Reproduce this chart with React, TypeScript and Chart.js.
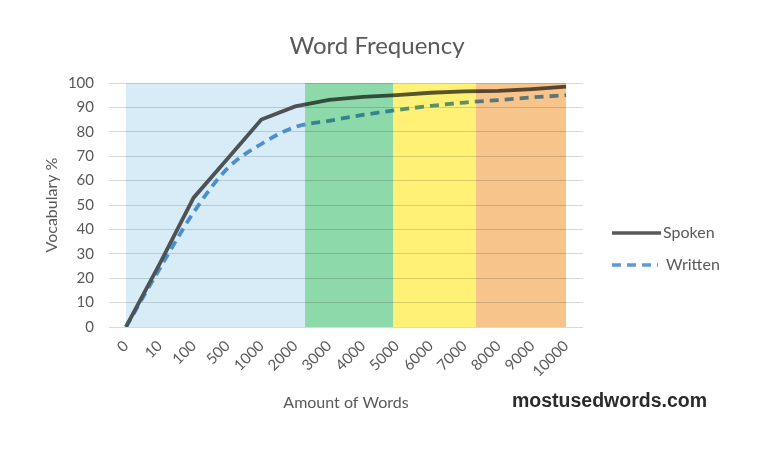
import React, { useEffect, useRef } from "react";
import { Chart, registerables } from "chart.js";

Chart.register(...registerables);

const categories = ["0", "10", "100", "500", "1000", "2000", "3000", "4000", "5000", "6000", "7000", "8000", "9000", "10000"];
const spokenValues = [0, 26, 53, 69, 85, 90.4, 93.1, 94.3, 95, 96, 96.6, 96.8, 97.5, 98.5];
const writtenValues = [0, 24, 47, 65, 75, 82, 84.5, 86.9, 88.9, 90.6, 92, 93, 94.1, 95];
const yMin = 0;
const yMax = 100;
const yStep = 10;
// background bands in category-index units
const bandStarts = [0, 5.29, 7.89, 10.34];
const bandEnds = [5.29, 7.89, 10.34, 13];
const bandColors = ["#d7ecf6", "#8ed9aa", "#fff176", "#f7c48c"];

const TEXT = "#595959";
const FONT = "Lato, 'Open Sans', sans-serif";

const decorPlugin = {
  id: "decor",
  afterDatasetsDraw(chart: any) {
    const { ctx, chartArea, scales } = chart;
    const x = scales.x;
    ctx.save();
    ctx.globalCompositeOperation = "multiply";
    for (let i = 0; i < bandColors.length; i++) {
      const x0 = x.getPixelForValue(bandStarts[i]);
      const x1 = x.getPixelForValue(bandEnds[i]);
      ctx.fillStyle = bandColors[i];
      ctx.fillRect(x0, chartArea.top, x1 - x0, chartArea.bottom - chartArea.top);
    }
    ctx.restore();
  },
  afterDraw(chart: any) {
    const { ctx } = chart;
    ctx.save();
    // title
    ctx.fillStyle = TEXT;
    ctx.font = `24px ${FONT}`;
    ctx.textAlign = "center";
    ctx.textBaseline = "middle";
    ctx.fillText("Word Frequency", 377, 46);

    // legend
    const ds = chart.data.datasets;
    const rows = [233, 265];
    ds.forEach((d: any, i: number) => {
      const y = rows[i];
      ctx.strokeStyle = d.borderColor;
      ctx.lineWidth = 3.5;
      ctx.setLineDash(d.borderDash || []);
      ctx.beginPath();
      ctx.moveTo(612, y);
      ctx.lineTo(i === 0 ? 661 : 658, y);
      ctx.stroke();
      ctx.setLineDash([]);
      ctx.fillStyle = TEXT;
      ctx.font = `16px ${FONT}`;
      ctx.textAlign = "left";
      ctx.textBaseline = "middle";
      ctx.fillText(d.label, i === 0 ? 663 : 666, y);
    });

    // watermark
    ctx.fillStyle = "#2b2b2b";
    ctx.font = "bold 19.5px 'Liberation Sans', Arial, sans-serif";
    ctx.textAlign = "left";
    ctx.textBaseline = "middle";
    ctx.fillText("mostusedwords.com", 512, 402);
    ctx.restore();
  },
};

export default function App() {
  const ref = useRef<HTMLCanvasElement>(null);
  useEffect(() => {
    if (!ref.current) return;
    const chart = new Chart(ref.current, {
      type: "line",
      data: {
        labels: categories,
        datasets: [
          {
            label: "Spoken",
            data: spokenValues,
            borderColor: "#595959",
            borderWidth: 3.8,
            pointRadius: 0,
            tension: 0,
            fill: false,
          },
          {
            label: "Written",
            data: writtenValues,
            borderColor: "#5b9bd5",
            borderWidth: 3.8,
            borderDash: [9, 6],
            pointRadius: 0,
            cubicInterpolationMode: "monotone",
            fill: false,
          },
        ],
      },
      options: {
        responsive: false,
        animation: false,
        layout: { padding: { top: 83, right: 193, left: 0, bottom: 0 } },
        plugins: {
          legend: { display: false },
          title: { display: false },
          tooltip: { enabled: false },
        },
        scales: {
          x: {
            offset: true,
            grid: { display: false },
            border: { display: false },
            ticks: {
              autoSkip: false,
              maxRotation: 45,
              minRotation: 45,
              padding: 2,
              color: TEXT,
              font: { family: FONT, size: 15 },
            },
            title: {
              display: true,
              text: "Amount of Words",
              color: TEXT,
              font: { family: FONT, size: 16 },
              padding: { top: 0, bottom: 44 },
            },
            afterFit(scale: any) {
              scale.height = 129;
            },
          },
          y: {
            min: yMin,
            max: yMax,
            grid: { color: "#d9d9d9", drawTicks: false, lineWidth: 1 },
            border: { display: false },
            ticks: {
              stepSize: yStep,
              padding: 15,
              color: TEXT,
              font: { family: FONT, size: 15 },
            },
            title: {
              display: true,
              text: "Vocabulary %",
              color: TEXT,
              font: { family: FONT, size: 16 },
              padding: { top: 42, bottom: 0 },
            },
            afterFit(scale: any) {
              scale.width = 109;
            },
          },
        },
      },
      plugins: [decorPlugin],
    });
    return () => chart.destroy();
  }, []);
  return (
    <div style={{ position: "fixed", left: 0, top: 0, width: 776, height: 456, background: "#fff" }}>
      <canvas ref={ref} width={776} height={456} style={{ display: "block" }} />
    </div>
  );
}
